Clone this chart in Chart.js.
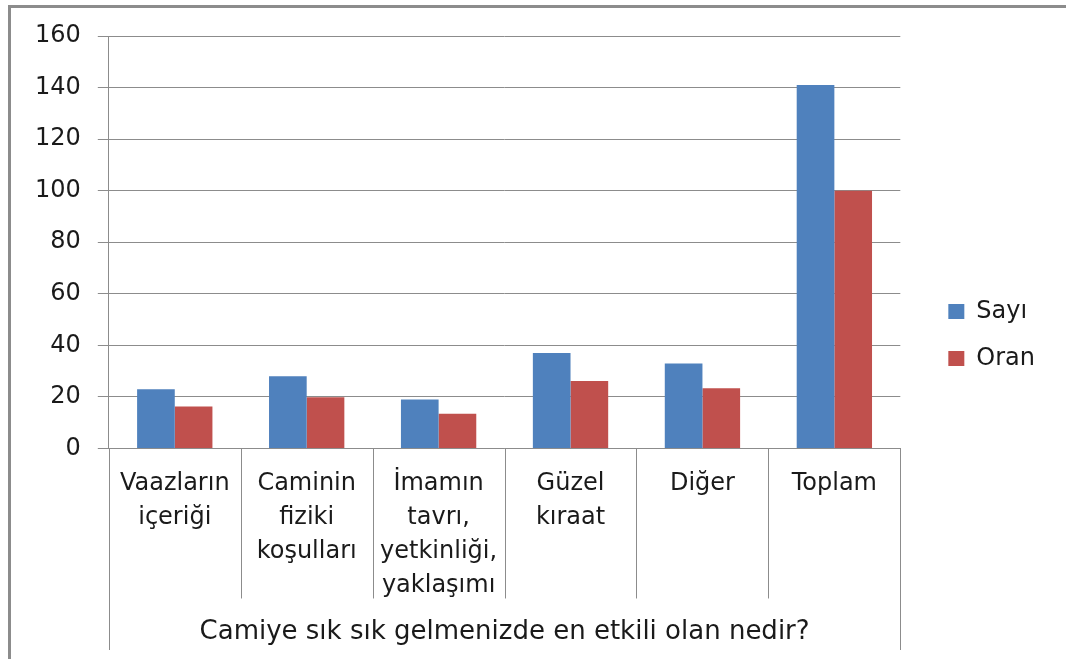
<!DOCTYPE html>
<html>
<head>
<meta charset="utf-8">
<script src="https://cdn.jsdelivr.net/npm/chart.js@4"></script>
<style>
  html, body { margin: 0; padding: 0; background: #fff; }
  #wrap { position: relative; width: 1066px; height: 659px; overflow: hidden; }
  #frame { position: absolute; left: 8px; top: 5px; right: -10px; bottom: -10px;
           border-left: 3px solid #8c8c8c; border-top: 3px solid #8c8c8c; }
  canvas { position: absolute; left: 0; top: 0; }
</style>
</head>
<body>
<div id="wrap">
  <div id="frame"></div>
  <canvas id="chart" width="1066" height="659"></canvas>
</div>
<script>
const categories = [
    ['Vaazların', 'içeriği'],
    ['Caminin', 'fiziki', 'koşulları'],
    ['İmamın', 'tavrı,', 'yetkinliği,', 'yaklaşımı'],
    ['Güzel', 'kıraat'],
    ['Diğer'],
    ['Toplam']
];
const sayiValues = [23, 28, 19, 37, 33, 141];
const oranValues = [16.3, 19.9, 13.5, 26.2, 23.4, 100];
const axisTitle = 'Camiye sık sık gelmenizde en etkili olan nedir?';

const gridColor = '#8c8c8c';
const textColor = '#1a1a1a';

Chart.defaults.font.family = 'DejaVu Sans';
Chart.defaults.color = textColor;

// lines between the category labels, as in a grouped Excel axis
const separators = {
    id: 'separators',
    afterDraw(chart) {
        const x = chart.scales.x;
        const ctx = chart.ctx;
        const n = categories.length;
        const step = x.width / n;
        ctx.save();
        ctx.strokeStyle = gridColor;
        ctx.lineWidth = 1;
        for (let i = 0; i <= n; i++) {
            const px = Math.round(x.getPixelForValue(i) - step / 2) + 0.5;
            const outer = i === 0 || i === n;
            ctx.beginPath();
            ctx.moveTo(px, x.top);
            ctx.lineTo(px, outer ? x.bottom : x.top + 150);
            ctx.stroke();
        }
        ctx.restore();
    }
};

new Chart(document.getElementById('chart'), {
    type: 'bar',
    data: {
        labels: categories,
        datasets: [
            { label: 'Sayı', data: sayiValues, backgroundColor: '#4F81BD' },
            { label: 'Oran', data: oranValues, backgroundColor: '#C0504D' }
        ]
    },
    options: {
        responsive: false,
        animation: false,
        layout: { padding: { left: 18, top: 20, right: 21, bottom: 9 } },
        datasets: {
            bar: { categoryPercentage: 0.571, barPercentage: 1.0 }
        },
        plugins: {
            legend: {
                position: 'right',
                labels: {
                    boxWidth: 16,
                    boxHeight: 15,
                    padding: 23,
                    font: { size: 24 },
                    color: textColor
                }
            },
            tooltip: { enabled: false }
        },
        scales: {
            x: {
                grid: { display: false },
                border: { display: true, color: gridColor },
                ticks: {
                    maxRotation: 0,
                    autoSkip: false,
                    padding: 10,
                    font: { size: 24, lineHeight: 1.42 },
                    color: textColor
                },
                title: {
                    display: true,
                    text: axisTitle,
                    font: { size: 26 },
                    color: textColor,
                    padding: { top: 4, bottom: 2 }
                }
            },
            y: {
                min: 0,
                max: 160,
                ticks: {
                    stepSize: 20,
                    padding: 17,
                    font: { size: 24 },
                    color: textColor
                },
                grid: { color: gridColor, tickLength: 11, drawTicks: true },
                border: { display: true, color: gridColor }
            },
            spacer: {
                type: 'linear',
                position: 'right',
                display: true,
                grid: { display: false },
                border: { display: false },
                ticks: { display: false },
                afterFit(scale) { scale.width = 25; }
            },
            topSpacer: {
                type: 'linear',
                position: 'top',
                display: true,
                grid: { display: false },
                border: { display: false },
                ticks: { display: false },
                afterFit(scale) { scale.height = 16; }
            }
        }
    },
    plugins: [separators]
});
</script>
</body>
</html>
